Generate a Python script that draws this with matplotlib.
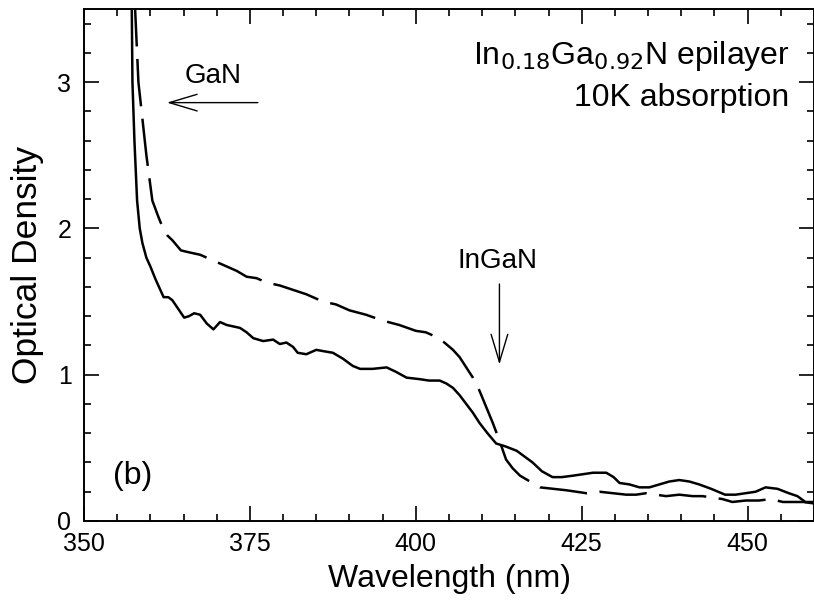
import numpy as np
import matplotlib
matplotlib.use('Agg')
import matplotlib.pyplot as plt
from matplotlib.ticker import MultipleLocator

plt.rcParams['font.family'] = ['Liberation Sans', 'DejaVu Sans']

# solid curve
wl_solid = [357.0, 357.2, 357.3, 357.6, 358.0, 358.4, 358.8, 359.4, 360.0, 360.8, 361.4, 362.0,
            362.7, 363.3, 364.2, 365.1, 365.8, 366.6, 367.5, 368.5, 369.5, 370.5, 371.5, 372.5,
            373.5, 374.5, 375.5, 377.0, 378.5, 379.5, 380.5, 381.5, 382.2, 383.5, 385.0, 386.2,
            387.5, 389.0, 390.5, 391.6, 393.5, 395.6, 397.0, 398.6, 400.5, 402.0, 403.6, 404.6,
            405.6, 406.6, 407.6, 408.6, 409.6, 410.8, 412.1, 413.5, 415.2, 416.4, 417.6, 419.0,
            420.6, 422.0, 423.7, 425.2, 426.7, 428.7, 429.8, 430.7, 432.2, 433.7, 435.2, 436.7,
            438.2, 439.7, 441.2, 442.7, 444.5, 446.6, 448.2, 449.7, 451.2, 452.7, 454.5, 456.2,
            457.5, 458.7, 460.0]
od_solid = [4.2, 3.5, 3.0, 2.6, 2.19, 2.0, 1.90, 1.80, 1.74, 1.65, 1.59, 1.53,
            1.53, 1.51, 1.45, 1.39, 1.40, 1.42, 1.41, 1.35, 1.31, 1.36, 1.34, 1.33,
            1.32, 1.29, 1.25, 1.23, 1.24, 1.21, 1.22, 1.19, 1.15, 1.14, 1.17, 1.16,
            1.15, 1.11, 1.06, 1.04, 1.04, 1.05, 1.02, 0.98, 0.97, 0.96, 0.96, 0.94,
            0.91, 0.86, 0.80, 0.74, 0.67, 0.60, 0.53, 0.51, 0.48, 0.44, 0.40, 0.34,
            0.30, 0.30, 0.31, 0.32, 0.33, 0.33, 0.30, 0.26, 0.25, 0.23, 0.23, 0.25,
            0.27, 0.28, 0.27, 0.25, 0.22, 0.18, 0.18, 0.19, 0.20, 0.23, 0.22, 0.19,
            0.17, 0.13, 0.13]

# dashed curve
wl_dash = [357.5, 357.7, 358.2, 358.8, 359.4, 360.3, 361.2, 362.0, 362.6, 363.3, 364.6,
           365.5, 366.5, 367.5, 369.5, 371.5, 373.0, 374.5, 376.0, 377.5, 379.5, 381.5, 383.5,
           386.0, 388.0, 390.0, 392.5, 395.0, 397.5, 400.0, 401.5, 403.0, 404.3, 405.6, 406.6,
           407.6, 408.6, 409.6, 410.6, 411.6, 412.6, 413.6, 414.6, 415.7, 417.2, 418.7, 420.7,
           422.7, 424.2, 425.7, 427.7, 429.7, 431.7, 433.2, 434.7, 436.2, 437.7, 439.7, 441.7,
           443.2, 444.7, 446.2, 447.7, 449.7, 451.7, 453.5, 455.3, 456.8, 458.4, 460.0]
od_dash = [4.2, 3.5, 3.0, 2.75, 2.5, 2.19, 2.08, 1.99, 1.95, 1.92, 1.85,
           1.84, 1.83, 1.82, 1.78, 1.74, 1.71, 1.67, 1.66, 1.63, 1.61, 1.58, 1.55,
           1.50, 1.48, 1.44, 1.41, 1.37, 1.34, 1.30, 1.29, 1.26, 1.22, 1.17, 1.12,
           1.05, 0.98, 0.89, 0.78, 0.67, 0.55, 0.42, 0.36, 0.31, 0.27, 0.23, 0.22,
           0.21, 0.20, 0.19, 0.20, 0.19, 0.18, 0.18, 0.19, 0.18, 0.17, 0.18, 0.17,
           0.17, 0.16, 0.15, 0.13, 0.14, 0.14, 0.15, 0.13, 0.13, 0.13, 0.12]

x_ticks = [350, 375, 400, 425, 450]
y_ticks = [0, 1, 2, 3]

fig = plt.figure(figsize=(8.14, 6.09), dpi=100)
ax = fig.add_axes([84 / 814, 88 / 609, 730 / 814, 512 / 609])

ax.plot(wl_solid, od_solid, color='black', lw=1.8)
ax.plot(wl_dash, od_dash, color='black', lw=1.8, dashes=(19, 5))

ax.set_xlim(350, 460)
ax.set_ylim(0, 3.5)
ax.set_xticks(x_ticks)
ax.set_yticks(y_ticks)
ax.xaxis.set_minor_locator(MultipleLocator(5))
ax.yaxis.set_minor_locator(MultipleLocator(0.2))
ax.tick_params(which='both', direction='in', top=True, right=True, labelsize=18, width=1.2)
ax.tick_params(axis='x', which='major', length=11, pad=8)
ax.tick_params(axis='y', which='major', length=11, pad=9)
ax.tick_params(which='minor', length=5)
for s in ax.spines.values():
    s.set_linewidth(1.4)

ax.set_xlabel('Wavelength (nm)', fontsize=23, labelpad=6)
ax.set_ylabel('Optical Density', fontsize=25.5, labelpad=10)

# annotations
arrow = dict(arrowstyle='->,head_length=1.0,head_width=0.3', lw=1.0, color='black',
             mutation_scale=20, shrinkA=0, shrinkB=0)
ax.text(369.4, 3.04, 'GaN', fontsize=20, ha='center', va='center')
ax.annotate('', xy=(362.5, 2.86), xytext=(376.2, 2.86), arrowprops=arrow)
ax.text(412.3, 1.78, 'InGaN', fontsize=20, ha='center', va='center')
ax.annotate('', xy=(412.6, 1.07), xytext=(412.6, 1.62), arrowprops=arrow)
ax.text(456.3, 3.18, r'In$_{0.18}$Ga$_{0.92}$N epilayer', fontsize=23, ha='right', va='center')
ax.text(456.3, 2.89, '10K absorption', fontsize=23, ha='right', va='center')
ax.text(357.3, 0.31, '(b)', fontsize=23, ha='center', va='center')

fig.savefig('out.png', dpi=100)
